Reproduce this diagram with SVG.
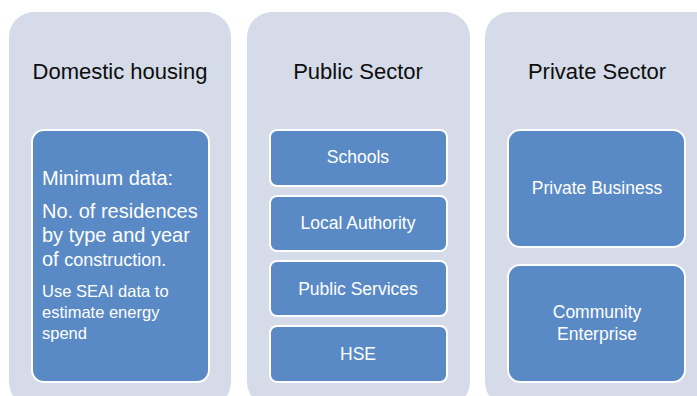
<svg xmlns="http://www.w3.org/2000/svg" width="697" height="396" viewBox="0 0 697 396">
<style>
.col{fill:#d5dbe8}
.box{fill:#5a8ac6;stroke:#ffffff;stroke-width:2}
.title{font-family:"Liberation Sans",Arial,sans-serif;font-size:22px;fill:#0d0d0d;text-anchor:middle}
.lbl{font-family:"Liberation Sans",Arial,sans-serif;font-size:17.5px;fill:#ffffff;text-anchor:middle}
.body{font-family:"Liberation Sans",Arial,sans-serif;fill:#ffffff}
</style>
<rect width="697" height="396" fill="#ffffff"/>
<g id="domestic">
<rect class="col" x="9" y="12" width="222" height="395" rx="25"/>
<text class="title" x="120" y="79">Domestic housing</text>
<g id="domestic-data">
<rect class="box" x="32" y="130" width="177" height="252" rx="12"/>
<text class="body" x="42" y="185" font-size="20">Minimum data:</text>
<text class="body" x="42" y="218" font-size="20">No. of residences</text>
<text class="body" x="42" y="242" font-size="20">by type and year</text>
<text class="body" x="42" y="266" font-size="20">of <tspan font-size="18">construction.</tspan></text>
<text class="body" x="42" y="297" font-size="16.5">Use SEAI data to</text>
<text class="body" x="42" y="318" font-size="16.5">estimate energy</text>
<text class="body" x="42" y="339" font-size="16.5">spend</text>
</g>
</g>
<g id="public">
<rect class="col" x="247" y="12" width="223" height="395" rx="25"/>
<text class="title" x="358" y="79">Public Sector</text>
<g id="schools"><rect class="box" x="270" y="130" width="177" height="56" rx="7"/><text class="lbl" x="358" y="163">Schools</text></g>
<g id="local-authority"><rect class="box" x="270" y="196" width="177" height="55" rx="7"/><text class="lbl" x="358" y="229">Local Authority</text></g>
<g id="public-services"><rect class="box" x="270" y="261" width="177" height="55" rx="7"/><text class="lbl" x="358" y="295">Public Services</text></g>
<g id="hse"><rect class="box" x="270" y="326" width="177" height="56" rx="7"/><text class="lbl" x="358" y="360">HSE</text></g>
</g>
<g id="private">
<rect class="col" x="485" y="12" width="240" height="395" rx="25"/>
<text class="title" x="597" y="79">Private Sector</text>
<g id="private-business"><rect class="box" x="508" y="130" width="177" height="117" rx="12"/><text class="lbl" x="597" y="194">Private Business</text></g>
<g id="community-enterprise"><rect class="box" x="508" y="265" width="177" height="117" rx="12"/><text class="lbl" x="597" y="318">Community</text><text class="lbl" x="597" y="340">Enterprise</text></g>
</g>
<g id="connectors"/>
</svg>
